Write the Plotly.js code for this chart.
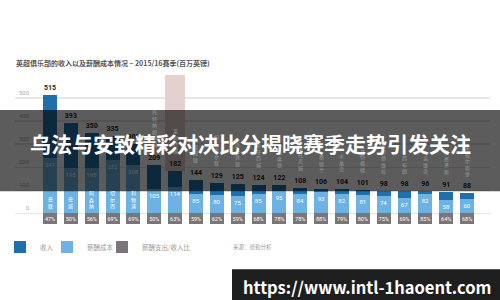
<!DOCTYPE html>
<html>
<head>
<meta charset="utf-8">
<script src="https://cdn.plot.ly/plotly-3.0.1.min.js"></script>
<style>
  html, body { margin: 0; padding: 0; background: #ffffff; }
  #chart { width: 500px; height: 300px; }
</style>
</head>
<body>
<div id="chart"></div>
<script>
// Premier League clubs, 2015/16 season (GBP million)
const clubs = ['曼联', '曼城', '阿森纳', '切尔西', '利物浦', '托特纳姆热刺', '莱斯特城',
  '西汉姆联', '纽卡斯尔联', '南安普顿', '斯旺西城', '埃弗顿', '斯托克城', '桑德兰',
  '水晶宫', '沃特福德', '阿斯顿维拉', '西布朗', '诺维奇', '伯恩茅斯', '米德尔斯堡'];
const revenue = [515, 393, 350, 335, 302, 209, 182, 144, 129, 125, 124, 122, 108, 106, 104, 101, 98, 98, 96, 91, 88];
const wages = [241, 195, 195, 232, 208, 105, 114, 85, 80, 75, 85, 95, 84, 93, 82, 81, 74, 67, 82, 58, 60];
const wageRatio = ['47%', '50%', '56%', '69%', '69%', '50%', '63%', '59%', '62%', '59%', '68%', '78%', '78%', '88%', '79%', '80%', '75%', '69%', '85%', '64%', '68%'];
const yTicks = [0, 100, 200, 300, 400, 500, 600];
const champion = '莱斯特城';

// Page geometry (px)
const W = 500, H = 300;
const M = { l: 15, r: 10, t: 75, b: 73.2 };
const plotW = W - M.l - M.r, plotH = H - M.t - M.b;
const xRange = [-1.68, 21.1];
const yRange = [-60, 600];
const px2paperX = px => (px - M.l) / plotW;
const px2paperY = py => (H - M.b - py) / plotH;

const CJK = '"Noto Sans CJK SC", "Noto Sans", sans-serif';
const BAR_W = 0.67;
const RATIO_BOX = 48;      // height of the grey ratio tag below the baseline
const colors = { revenue: '#1f70aa', wages: '#6eb2e4', ratio: '#7a7578', highlight: '#e4d0cd' };

const hl = clubs.indexOf(champion);

const traces = [
  {
    type: 'bar', x: [clubs[hl]], base: [revenue[hl]], y: [yRange[1] - revenue[hl]],
    width: 0.96, marker: { color: colors.highlight }, showlegend: false, hoverinfo: 'skip'
  },
  {
    type: 'bar', name: '收入', x: clubs, y: revenue, width: BAR_W,
    marker: { color: colors.revenue },
    text: revenue.map(String), textposition: 'outside', textangle: 0, cliponaxis: false,
    textfont: { family: 'Roboto, "DejaVu Sans", sans-serif', size: 7, color: '#222', weight: 'bold' },
    legend: 'legend'
  },
  {
    type: 'bar', name: '薪酬成本', x: clubs, y: wages, width: BAR_W,
    marker: { color: colors.wages },
    text: wages.map(String), textposition: 'inside', insidetextanchor: 'end', textangle: 0,
    constraintext: 'none',
    textfont: { family: 'Roboto, sans-serif', size: 6, color: '#ffffff' },
    legend: 'legend2'
  },
  {
    type: 'bar', name: '薪酬支出/收入比', x: clubs, y: clubs.map(() => -RATIO_BOX), width: BAR_W,
    marker: { color: colors.ratio },
    text: wageRatio, textposition: 'inside', insidetextanchor: 'middle', textangle: 0,
    constraintext: 'none',
    textfont: { family: 'Roboto, sans-serif', size: 5.5, color: '#ffffff' },
    legend: 'legend3'
  }
];

// Club names, written vertically: inside the tall bars, above the shorter ones
const nameNotes = clubs.map((c, i) => {
  const inside = revenue[i] > 250;
  return {
    xref: 'x', yref: 'y', x: c, y: inside ? 0 : revenue[i],
    text: Array.from(c).join('<br>'), showarrow: false,
    yanchor: 'bottom', xanchor: 'center', yshift: inside ? 1 : 14,
    font: { family: CJK, size: 5, color: inside ? '#ffffff' : '#9a9a9a' }
  };
});

const legendBase = {
  orientation: 'h', xref: 'container', yref: 'container', xanchor: 'left', yanchor: 'middle',
  y: 1 - 247 / H, bgcolor: 'rgba(0,0,0,0)', font: { family: CJK, size: 6.5, color: '#9a9a9a' },
  itemwidth: 30, tracegroupgap: 0
};

const layout = {
  width: W, height: H, margin: M,
  paper_bgcolor: '#ffffff', plot_bgcolor: '#ffffff',
  barmode: 'overlay', bargap: 0,
  title: {
    text: '英超俱乐部的收入以及薪酬成本情况 – 2015/16赛季(百万英镑)',
    xref: 'container', yref: 'container', x: 16 / W, y: 1 - 64 / H,
    xanchor: 'left', yanchor: 'middle',
    font: { family: CJK, size: 7, color: '#555555', weight: 'bold' }
  },
  xaxis: {
    type: 'category', categoryorder: 'array', categoryarray: clubs,
    range: xRange, showticklabels: false, showgrid: false,
    zeroline: false, showline: false, ticks: '', fixedrange: true
  },
  yaxis: {
    range: yRange, tickvals: yTicks,
    ticktext: yTicks.map(v => String(v).padStart(3, '\u2007')),
    showgrid: true, gridcolor: '#e6e6e6', gridwidth: 1.2, zeroline: false, showline: false,
    ticks: '', ticklabelposition: 'inside', ticklabelshift: -5, ticklabelstandoff: 1,
    tickfont: { family: 'Roboto, sans-serif', size: 6, color: '#aaaaaa' }, fixedrange: true
  },
  showlegend: true,
  legend: Object.assign({}, legendBase, { x: -3 / W }),
  legend2: Object.assign({}, legendBase, { x: 47 / W }),
  legend3: Object.assign({}, legendBase, { x: 102 / W }),
  shapes: [
    // headline band across the chart
    {
      type: 'rect', xref: 'paper', yref: 'paper', layer: 'above',
      x0: px2paperX(-5), x1: px2paperX(W + 5), y0: px2paperY(191), y1: px2paperY(110),
      fillcolor: 'rgba(0,0,0,0.64)', line: { width: 0 }
    },
    // address plate, lower right
    {
      type: 'rect', xref: 'paper', yref: 'paper', layer: 'above',
      x0: px2paperX(232), x1: px2paperX(W + 5), y0: px2paperY(H + 5), y1: px2paperY(269),
      fillcolor: '#1e1e1e', line: { width: 0 }
    }
  ],
  annotations: nameNotes.concat([
    {
      xref: 'paper', yref: 'paper', x: px2paperX(250), y: px2paperY(143),
      text: '乌法与安致精彩对决比分揭晓赛季走势引发关注', showarrow: false,
      xanchor: 'center', yanchor: 'middle',
      font: { family: CJK, size: 21, color: '#ffffff', weight: 'bold' }
    },
    {
      xref: 'paper', yref: 'paper', x: px2paperX(231), y: px2paperY(247),
      text: '来源：德勤分析', showarrow: false, xanchor: 'left', yanchor: 'middle',
      font: { family: CJK, size: 5.5, color: '#9a9a9a' }
    },
    {
      xref: 'paper', yref: 'paper', x: px2paperX(241), y: px2paperY(287),
      text: 'https://www.intl-1haoent.com', showarrow: false, xanchor: 'left', yanchor: 'middle',
      font: { family: CJK, size: 16.5, color: '#ffffff', weight: 'bold' }
    }
  ])
};

Plotly.newPlot('chart', traces, layout, { staticPlot: true, displayModeBar: false });
</script>
</body>
</html>
